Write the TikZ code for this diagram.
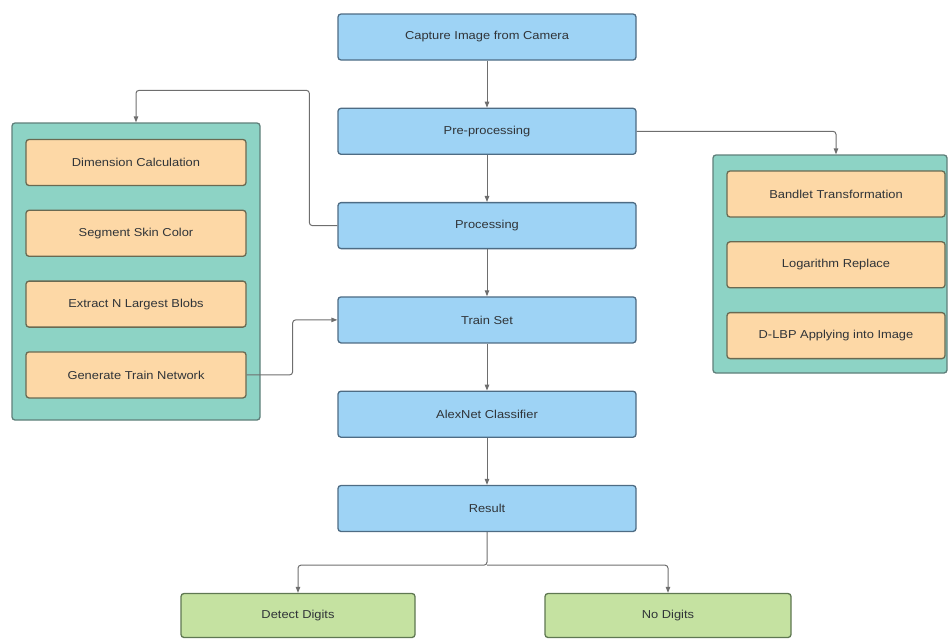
\documentclass[tikz,border=0pt]{standalone}
\usepackage{fontspec}
\setmainfont[FakeStretch=1.12]{Liberation Sans}
\usepackage{xcolor}
\usepackage{tikz}
\usetikzlibrary{arrows.meta,positioning,calc}

\definecolor{mainfill}{HTML}{9ED3F5}
\definecolor{maindraw}{HTML}{4E6C84}
\definecolor{groupfill}{HTML}{8DD3C5}
\definecolor{groupdraw}{HTML}{5F7F7A}
\definecolor{stepfill}{HTML}{FDD8A6}
\definecolor{stepdraw}{HTML}{6A6A52}
\definecolor{endfill}{HTML}{C5E2A1}
\definecolor{enddraw}{HTML}{5F7852}
\definecolor{connline}{HTML}{6E6E6E}
\definecolor{labeltext}{HTML}{303438}

\begin{document}
\begin{tikzpicture}[
            x=1pt, y=-1pt,
            node distance=47pt,
            every node/.style={font=\fontsize{11.5}{13}\selectfont, text=labeltext},
            mainbox/.style={draw=maindraw, line width=1.3pt, rounded corners=3pt, minimum width=298pt, minimum height=46pt, fill=mainfill},
            groupbox/.style={draw=groupdraw, line width=1.3pt, rounded corners=3pt, fill=groupfill},
            stepbox/.style={draw=stepdraw, line width=1.3pt, rounded corners=3pt, minimum height=46pt, fill=stepfill},
            endbox/.style={draw=enddraw, line width=1.3pt, rounded corners=3pt, minimum height=44pt, fill=endfill},
            conn/.style={->, draw=connline, line width=1pt, rounded corners=3pt, >={Triangle[length=6pt,width=4.5pt]}}
        ]
            \useasboundingbox (0,0) rectangle (948,638);

            % main chain
            \node[mainbox] (capture) at (487,37) {Capture Image from Camera};
            \node[mainbox, below=of capture] (preproc) {Pre-processing};
            \node[mainbox, below=of preproc] (proc) {Processing};
            \node[mainbox, below=of proc] (trainset) {Train Set};
            \node[mainbox, below=of trainset] (alexnet) {AlexNet Classifier};
            \node[mainbox, below=of alexnet] (result) {Result};

            % outcomes
            \node[endbox, minimum width=234pt] (detect) at (298,615.5) {Detect Digits};
            \node[endbox, minimum width=246pt] (nodigits) at (668,615.5) {No Digits};

            % left group
            \node[groupbox, minimum width=248pt, minimum height=297pt] (leftgrp) at (136,271.5) {};
            \node[stepbox, minimum width=220pt, node distance=23.5pt] (dimension) at (136,162.5) {Dimension Calculation};
            \node[stepbox, minimum width=220pt, node distance=23.5pt, below=of dimension] (skin) {Segment Skin Color};
            \node[stepbox, minimum width=220pt, node distance=23.5pt, below=of skin] (blobs) {Extract N Largest Blobs};
            \node[stepbox, minimum width=220pt, node distance=23.5pt, below=of blobs] (gennet) {Generate Train Network};

            % right group
            \node[groupbox, minimum width=234pt, minimum height=218pt] (rightgrp) at (830,264) {};
            \node[stepbox, minimum width=218pt, node distance=23.5pt] (bandlet) at (836,194) {Bandlet Transformation};
            \node[stepbox, minimum width=218pt, node distance=23.5pt, below=of bandlet] (logrep) {Logarithm Replace};
            \node[stepbox, minimum width=218pt, node distance=23.5pt, below=of logrep] (dlbp) {D-LBP Applying into Image};

            % connectors
            \draw[conn] (capture) -- (preproc);
            \draw[conn] (preproc) -- (proc);
            \draw[conn] (proc) -- (trainset);
            \draw[conn] (trainset) -- (alexnet);
            \draw[conn] (alexnet) -- (result);

            \coordinate (lefttop) at ($(leftgrp.north)+(0,-32)$);
            \draw[conn] (proc.west) -- ++(-28,0) |- (lefttop) -- (leftgrp.north);
            \draw[conn] (preproc.east) -| (bandlet.center |- rightgrp.north);
            \draw[conn] (gennet.east) -- ++(46,0) |- (trainset.west);

            \coordinate (split) at ($(result.south)+(0,33)$);
            \draw[conn] (result.south) -- (split) -| (detect.north);
            \draw[conn] (split) -| (nodigits.north);
        \end{tikzpicture}
\end{document}
